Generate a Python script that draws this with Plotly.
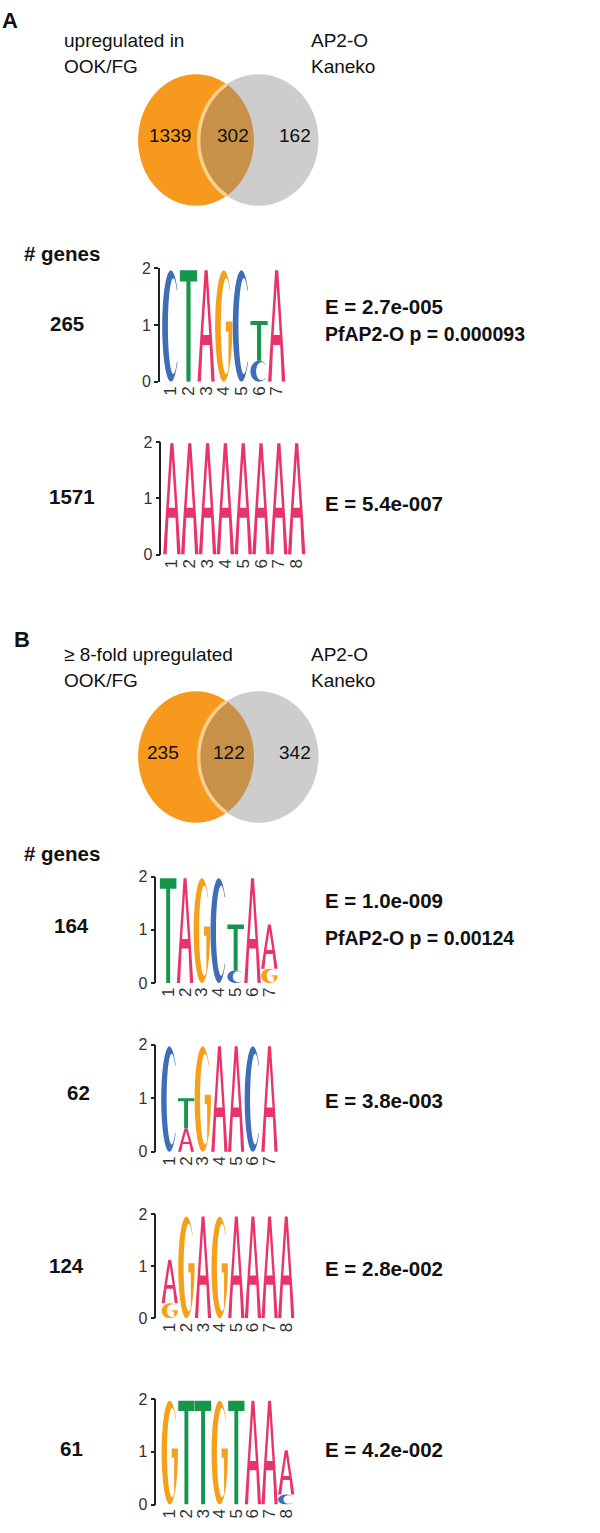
import numpy as np
import plotly.graph_objects as go

W, H = 600, 1533
FONT = "Liberation Sans, Arial, Helvetica, sans-serif"

# ---------------- data ----------------
venn_A_counts = [1339, 302, 162]
venn_B_counts = [235, 122, 342]
venn_A_title = ["upregulated in", "OOK/FG"]
venn_B_title = ["\u2265 8-fold upregulated", "OOK/FG"]
venn_ref_title = ["AP2-O", "Kaneko"]
panel_letters = ["A", "B"]

motif_A1 = [[("C", 1.96)], [("T", 1.96)], [("A", 1.96)], [("G", 1.96)],
            [("C", 1.96)], [("C", 0.37), ("T", 0.70)], [("A", 1.96)]]
motif_A2 = [[("A", 1.98)], [("A", 1.98)], [("A", 1.98)], [("A", 1.98)],
            [("A", 1.98)], [("A", 1.98)], [("A", 1.98)], [("A", 1.98)]]
motif_B1 = [[("T", 1.97)], [("A", 1.97)], [("G", 1.97)], [("C", 1.97)],
            [("C", 0.24), ("T", 0.86)], [("A", 1.97)], [("G", 0.27), ("A", 0.83)]]
motif_B2 = [[("C", 1.97)], [("A", 0.44), ("T", 0.56)], [("G", 1.97)], [("A", 1.97)],
            [("A", 1.97)], [("C", 1.97)], [("A", 1.97)]]
motif_B3 = [[("G", 0.29), ("A", 0.84)], [("G", 1.96)], [("A", 1.96)], [("G", 1.96)],
            [("A", 1.96)], [("A", 1.96)], [("A", 1.96)], [("A", 1.96)]]
motif_B4 = [[("G", 1.97)], [("T", 1.97)], [("T", 1.97)], [("G", 1.97)],
            [("T", 1.97)], [("A", 1.97)], [("A", 1.97)], [("C", 0.19), ("A", 0.84)]]
motifs = [motif_A1, motif_A2, motif_B1, motif_B2, motif_B3, motif_B4]

gene_counts = [265, 1571, 164, 62, 124, 61]
e_values = ["E = 2.7e-005", "E = 5.4e-007", "E = 1.0e-009",
            "E = 3.8e-003", "E = 2.8e-002", "E = 4.2e-002"]
pfap2_p = ["PfAP2-O p = 0.000093", "", "PfAP2-O p = 0.00124", "", "", ""]
bit_ticks = [0, 1, 2]

letter_colors = {"A": "#E8336B", "C": "#3E6EB5", "G": "#F5A01A", "T": "#15964B"}

# ---------------- layout (pixels) ----------------
# axis_x, letters_start, slot, y_of_0, y_of_2
logo_px = [
    (160.0, 162.3, 17.67, 378.0, 263.0),
    (161.7, 163.3, 17.85, 552.7, 439.0),
    (156.7, 160.0, 16.90, 986.0, 878.3),
    (156.7, 161.3, 16.72, 1156.7, 1048.3),
    (156.7, 161.7, 16.67, 1325.0, 1220.0),
    (156.7, 161.7, 16.67, 1513.3, 1406.7),
]
count_px = [(67.5, 319), (71.7, 494), (71.7, 928), (79.0, 1097), (66.7, 1272), (71.7, 1457)]
e_y = [302, 501, 902, 1105, 1275, 1458]
pf_y = [330, None, 940, None, None, None]
venn_cy = [133.5, 757.3]


# ---------------- glyphs ----------------
def arc(cx, cy, rx, ry, t0, t1, n=40):
    t = np.radians(np.linspace(t0, t1, n))
    return list(zip(cx + rx * np.cos(t), cy + ry * np.sin(t)))


def glyph(letter):
    if letter == "A":
        outer = [(0, 0), (0.41, 1), (0.59, 1), (1, 0), (0.8, 0), (0.705, 0.33),
                 (0.295, 0.33), (0.2, 0)]
        hole = [(0.32, 0.42), (0.68, 0.42), (0.5, 0.86)]
        return [outer, hole]
    if letter == "T":
        return [[(0, 1), (1, 1), (1, 0.9), (0.62, 0.9), (0.62, 0), (0.38, 0),
                 (0.38, 0.9), (0, 0.9)]]
    icx, irx, iry = 0.64, 0.31, 0.43
    phi = np.degrees(np.arcsin((0.5 * np.sin(np.radians(40))) / iry))
    if letter == "C":
        pts = arc(0.5, 0.5, 0.5, 0.5, 40, 320) + arc(icx, 0.5, irx, iry, 360 - phi, phi)
        return [pts]
    if letter == "G":
        phib = -np.degrees(np.arccos((0.77 - icx) / irx))
        pts = (arc(0.5, 0.5, 0.5, 0.5, 40, 360)
               + [(1, 0.54), (0.62, 0.54), (0.62, 0.45), (0.77, 0.45)]
               + arc(icx, 0.5, irx, iry, phib, phi - 360))
        return [pts]
    return []


def letter_path(letter, xc, width, y0, h):
    parts = []
    for poly in glyph(letter):
        pts = [(xc - width / 2 + u * width, y0 + v * h) for u, v in poly]
        parts.append("M " + " L ".join(f"{x:.4f},{y:.4f}" for x, y in pts) + " Z")
    return " ".join(parts)


fig = go.Figure()
shapes = []
annotations = []


def txt(x, y, s, size, bold=False, anchor="left", color="#111111"):
    annotations.append(dict(
        x=x, y=y, xref="x", yref="y", text=(f"<b>{s}</b>" if bold else s),
        showarrow=False, xanchor=anchor, yanchor="middle",
        font=dict(family=FONT, size=size, color=color)))


# overlay pixel axis
fig.add_trace(go.Scatter(x=[0], y=[0], mode="markers", marker=dict(opacity=0),
                         hoverinfo="skip", showlegend=False, xaxis="x", yaxis="y"))
layout_axes = dict(
    xaxis=dict(domain=[0, 1], range=[0, W], visible=False, fixedrange=True),
    yaxis=dict(domain=[0, 1], range=[H, 0], visible=False, fixedrange=True),
)

# ---------------- Venn diagrams ----------------
O_cx, O_rx, O_ry = 196.3, 58.0, 66.5
G_cx, G_rx, G_ry = 259.0, 60.0, 66.5
venn_counts = [venn_A_counts, venn_B_counts]
venn_titles = [venn_A_title, venn_B_title]
num_x = [[170, 233.3, 295], [163.3, 229, 295]]
title_y = [33, 653.3]
for k in range(2):
    cy = venn_cy[k]
    shapes.append(dict(type="circle", xref="x", yref="y", x0=O_cx - O_rx, x1=O_cx + O_rx,
                       y0=cy - O_ry, y1=cy + O_ry, fillcolor="#F7991D", line=dict(width=0),
                       layer="below"))
    shapes.append(dict(type="circle", xref="x", yref="y", x0=G_cx - G_rx, x1=G_cx + G_rx,
                       y0=cy - G_ry, y1=cy + G_ry, fillcolor="#CDCDCD", line=dict(width=0),
                       layer="below"))
    # lens
    t = np.linspace(np.pi / 2, 3 * np.pi / 2, 721)
    gx, gy = G_cx + G_rx * np.cos(t), cy + G_ry * np.sin(t)
    m = ((gx - O_cx) / O_rx) ** 2 + ((gy - cy) / O_ry) ** 2 <= 1
    garc = list(zip(gx[m], gy[m]))
    t2 = np.linspace(-np.pi / 2, np.pi / 2, 721)
    ox, oy = O_cx + O_rx * np.cos(t2), cy + O_ry * np.sin(t2)
    m2 = ((ox - G_cx) / G_rx) ** 2 + ((oy - cy) / G_ry) ** 2 <= 1
    oarc = list(zip(ox[m2], oy[m2]))
    lens = garc + oarc
    shapes.append(dict(type="path", xref="x", yref="y",
                       path="M " + " L ".join(f"{x:.2f},{y:.2f}" for x, y in lens) + " Z",
                       fillcolor="#C8914A", line=dict(width=0), layer="below"))
    shapes.append(dict(type="path", xref="x", yref="y",
                       path="M " + " L ".join(f"{x:.2f},{y:.2f}" for x, y in garc),
                       line=dict(color="#FFD08C", width=3.5), layer="below"))
    for j in range(3):
        txt(num_x[k][j], cy - 4.5, str(venn_counts[k][j]), 19, anchor="center")
    ty = title_y[k]
    txt(61.7, ty, venn_titles[k][0], 19)
    txt(61.7, ty + 26.5, venn_titles[k][1], 19)
    txt(309.5, ty, venn_ref_title[0], 19)
    txt(309.5, ty + 26.5, venn_ref_title[1], 19)

txt(0, 12.5, panel_letters[0], 22, bold=True)
txt(12.5, 639, panel_letters[1], 22, bold=True)
txt(22, 248, "# genes", 20.5, bold=True)
txt(22, 855, "# genes", 20.5, bold=True)

# ---------------- sequence logos ----------------
for i, motif in enumerate(motifs):
    ax_px, ls, slot, y0p, y2p = logo_px[i]
    n = len(motif)
    k = i + 2
    xa, ya = f"x{k}", f"y{k}"
    positions = list(range(1, n + 1))
    fig.add_trace(go.Scatter(x=positions, y=[0] * n, mode="markers",
                             marker=dict(opacity=0), hoverinfo="skip",
                             showlegend=False, xaxis=xa, yaxis=ya))
    layout_axes[f"xaxis{k}"] = dict(
        domain=[ax_px / W, (ls + n * slot) / W],
        range=[0.5 - (ls - ax_px) / slot, n + 0.5], anchor=ya,
        tickvals=positions, ticktext=[str(p) for p in positions], tickangle=-90,
        showline=False, ticks="", showgrid=False, zeroline=False, fixedrange=True,
        tickfont=dict(family=FONT, size=17, color="#333333"))
    layout_axes[f"yaxis{k}"] = dict(
        domain=[1 - y0p / H, 1 - y2p / H], range=[0, 2], anchor=xa,
        tickvals=bit_ticks, ticktext=[str(b) for b in bit_ticks],
        showline=True, linecolor="#222222", linewidth=1.5, ticks="outside",
        ticklen=4, tickwidth=1.5, tickcolor="#222222", showgrid=False,
        zeroline=False, fixedrange=True,
        tickfont=dict(family=FONT, size=16, color="#333333"))
    for p, column in zip(positions, motif):
        base = 0.0
        for letter, h in column:
            shapes.append(dict(type="path", xref=xa, yref=ya,
                               path=letter_path(letter, p, 0.98, base, h),
                               fillcolor=letter_colors[letter], line=dict(width=0),
                               fillrule="evenodd", layer="above"))
            base += h
    cx, cyp = count_px[i]
    txt(cx, cyp, str(gene_counts[i]), 20.5, bold=True, anchor="center")
    txt(324, e_y[i], e_values[i], 20.5, bold=True)
    if pfap2_p[i]:
        txt(324, pf_y[i], pfap2_p[i], 19.5, bold=True)

fig.update_layout(
    width=W, height=H, margin=dict(l=0, r=0, t=0, b=0),
    paper_bgcolor="white", plot_bgcolor="rgba(0,0,0,0)",
    showlegend=False, shapes=shapes, annotations=annotations, **layout_axes)

fig.write_html("out.html", config={"displayModeBar": False},
               post_script="document.body.style.margin='0';")
